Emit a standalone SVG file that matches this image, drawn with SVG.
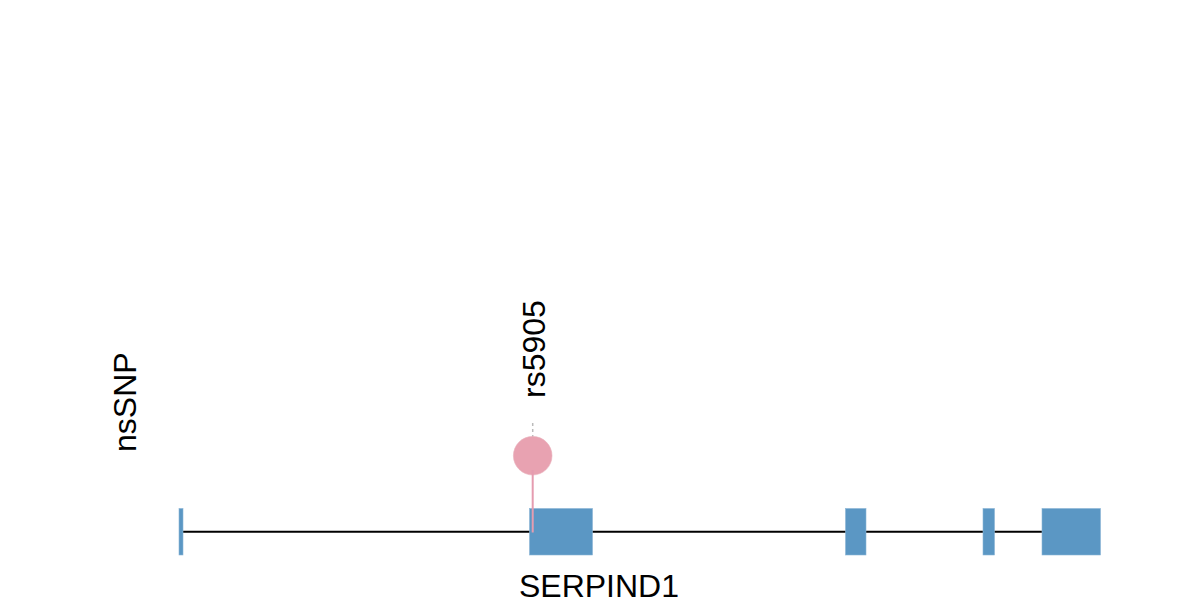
<svg xmlns="http://www.w3.org/2000/svg" width="1200" height="600" viewBox="0 0 1200 600">
<style>
.lbl{font-family:"Liberation Sans",Arial,sans-serif;font-size:32px;fill:#000}
.exon{fill:#5b97c4;stroke:#8bb5d6;stroke-width:0.6}
</style>
<rect width="1200" height="600" fill="#fff"/>
<g id="connectors">
<line x1="181" y1="531.7" x2="1100" y2="531.7" stroke="#000" stroke-width="2"/>
</g>
<g id="exons">
<rect class="exon" x="179" y="508.5" width="4" height="46.5"/>
<rect class="exon" x="529.5" y="508.5" width="63" height="46.5"/>
<rect class="exon" x="845.5" y="508.5" width="20.5" height="46.5"/>
<rect class="exon" x="983" y="508.5" width="11.5" height="46.5"/>
<rect class="exon" x="1042" y="508.5" width="58.5" height="46.5"/>
</g>
<g id="snp">
<line x1="532.7" y1="423" x2="532.7" y2="437" stroke="#bbb" stroke-width="1.5" stroke-dasharray="3,3"/>
<circle cx="532.7" cy="455.7" r="19.3" fill="#e8a2b1" stroke="#eab0bc" stroke-width="0.6"/>
<line x1="532.7" y1="470" x2="532.7" y2="532.5" stroke="#e59cb0" stroke-width="2"/>
<text class="lbl" transform="translate(545,398) rotate(-90)">rs5905</text>
</g>
<g id="track-label">
<text class="lbl" transform="translate(136,452) rotate(-90)">nsSNP</text>
</g>
<g id="gene-label">
<text class="lbl" x="599" y="596.5" text-anchor="middle">SERPIND1</text>
</g>
</svg>
